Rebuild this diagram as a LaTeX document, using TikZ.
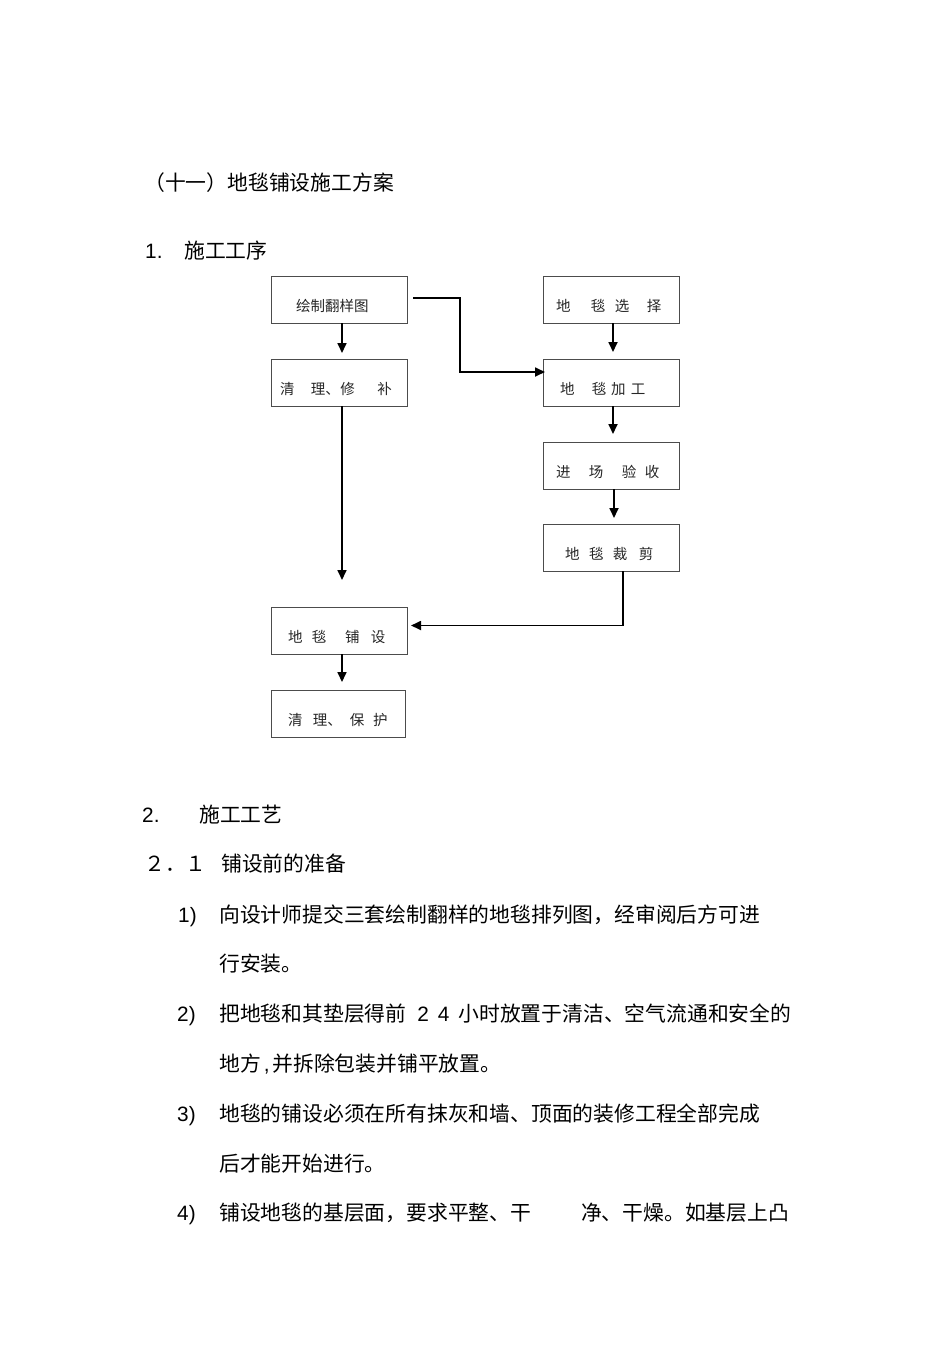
\documentclass[tikz,border=0pt]{standalone}
\usepackage{fontspec}
\setmainfont{Noto Sans CJK SC}
\newfontfamily\lat{Liberation Sans}
\usetikzlibrary{positioning,arrows.meta}

\begin{document}
\begin{tikzpicture}[
    x=1pt, y=1pt,
    node distance=36pt,  % gap between stacked boxes
    stepbox/.style = {draw=black!70, line width=0.9pt, inner sep=0pt, outer sep=0pt, text width=136pt, align=left,
      minimum height=47pt, text height=35.5pt, text depth=11.5pt, text=black!85,
      font=\fontsize{14.5}{17}\selectfont},
    body/.style = {anchor=base west, inner sep=0pt, font=\fontsize{20.8}{25}\selectfont},
    num/.style = {body, font=\fontsize{20.8}{25}\selectfont\lat},
    arr/.style = {line width=1.7pt, -{Triangle[length=10pt,width=9pt]}}
  ]
  \useasboundingbox (0,0) rectangle (950,-1345);

  % headings
  \node[body] (title) at (144,-190) {（十一）地毯铺设施工方案};
  \node[num] (n1) at (145,-258) {1.};
  \node[body] (s1) at (184,-258) {施工工序};

  % left column
  \node[stepbox, anchor=north west] (draw) at (271,-276) {\hspace*{25pt}绘制翻样图};
  \node[stepbox] (clean) [below=of draw] {\hspace*{9pt}清\hspace{16.5pt}理、\hspace{0.5pt}修\hspace{22.5pt}补};
  \node[stepbox, anchor=north west] (lay) at (271,-607) {\hspace*{17pt}地\hspace{9.5pt}毯\hspace{18.5pt}铺\hspace{11.5pt}设};
  \node[stepbox, text width=134pt] (protect) [below=of lay.south west, anchor=north west] {\hspace*{17pt}清\hspace{10.5pt}理、\hspace{8pt}保\hspace{8.5pt}护};

  % right column
  \node[stepbox, anchor=north west] (choose) at (543,-276) {\hspace*{13pt}地\hspace{20.5pt}毯\hspace{9.5pt}选\hspace{17.5pt}择};
  \node[stepbox] (make) [below=of choose] {\hspace*{17pt}地\hspace{17.5pt}毯\hspace{4.5pt}加\hspace{5.5pt}工};
  \node[stepbox] (check) [below=of make] {\hspace*{13pt}进\hspace{18.5pt}场\hspace{18.5pt}验\hspace{8.5pt}收};
  \node[stepbox] (cut) [below=35pt of check] {\hspace*{22pt}地\hspace{9.5pt}毯\hspace{9.5pt}裁\hspace{11.5pt}剪};

  \coordinate (fork) at (342,-580);   % open end of the long line

  \draw[arr, shorten >=6pt] ([xshift=3pt]draw.south) -- ([xshift=3pt]clean.north);
  \draw[arr] ([xshift=6pt,yshift=1.5pt]draw.east) -- ++(47,0) |- ([xshift=2pt,yshift=10.5pt]make.west);
  \draw[arr, shorten >=7pt] ([xshift=2pt]choose.south) -- ([xshift=2pt]make.north);
  \draw[arr, shorten >=8pt] ([xshift=2pt]make.south) -- ([xshift=2pt]check.north);
  \draw[arr, shorten >=6pt] ([xshift=3pt]check.south) -- ([xshift=3pt]cut.north);
  \draw[arr] ([xshift=3pt]clean.south) -- (fork);
  \draw[arr] ([xshift=12pt]cut.south) |- ([xshift=4pt,yshift=5pt]lay.east);
  \draw[arr, shorten >=8pt] ([xshift=3pt]lay.south) -- ([xshift=4pt]protect.north);

  % second section
  \node[num] (n2) at (142,-822) {2.};
  \node[body] (s2) at (199,-822) {施工工艺};
  \node[body] (n21) at (144,-871) {２．１};
  \node[body] (s21) at (221,-871) {铺设前的准备};

  \node[num] (i1) at (178,-922) {1)};
  \node[body] (p1) at (219,-922) {向设计师提交三套绘制翻样的地毯排列图，经审阅后方可进};
  \node[body] (p1b) at (219,-971) {行安装。};
  \node[num] (i2) at (177,-1021) {2)};
  \node[body] (p2) at (219,-1021) {把地毯和其垫层得前{\lat\hspace{11pt}2\hspace{9pt}4\hspace{9pt}}小时放置于清洁、空气流通和安全的};
  \node[body] (p2b) at (219,-1071) {地方{\lat\hspace{3pt},\hspace{3pt}}并拆除包装并铺平放置。};
  \node[num] (i3) at (177,-1121) {3)};
  \node[body] (p3) at (219,-1121) {地毯的铺设必须在所有抹灰和墙、顶面的装修工程全部完成};
  \node[body] (p3b) at (219,-1171) {后才能开始进行。};
  \node[num] (i4) at (177,-1220) {4)};
  \node[body] (p4) at (219,-1220) {铺设地毯的基层面，要求平整、干\hspace{50pt}净、干燥。如基层上凸};
\end{tikzpicture}
\end{document}
